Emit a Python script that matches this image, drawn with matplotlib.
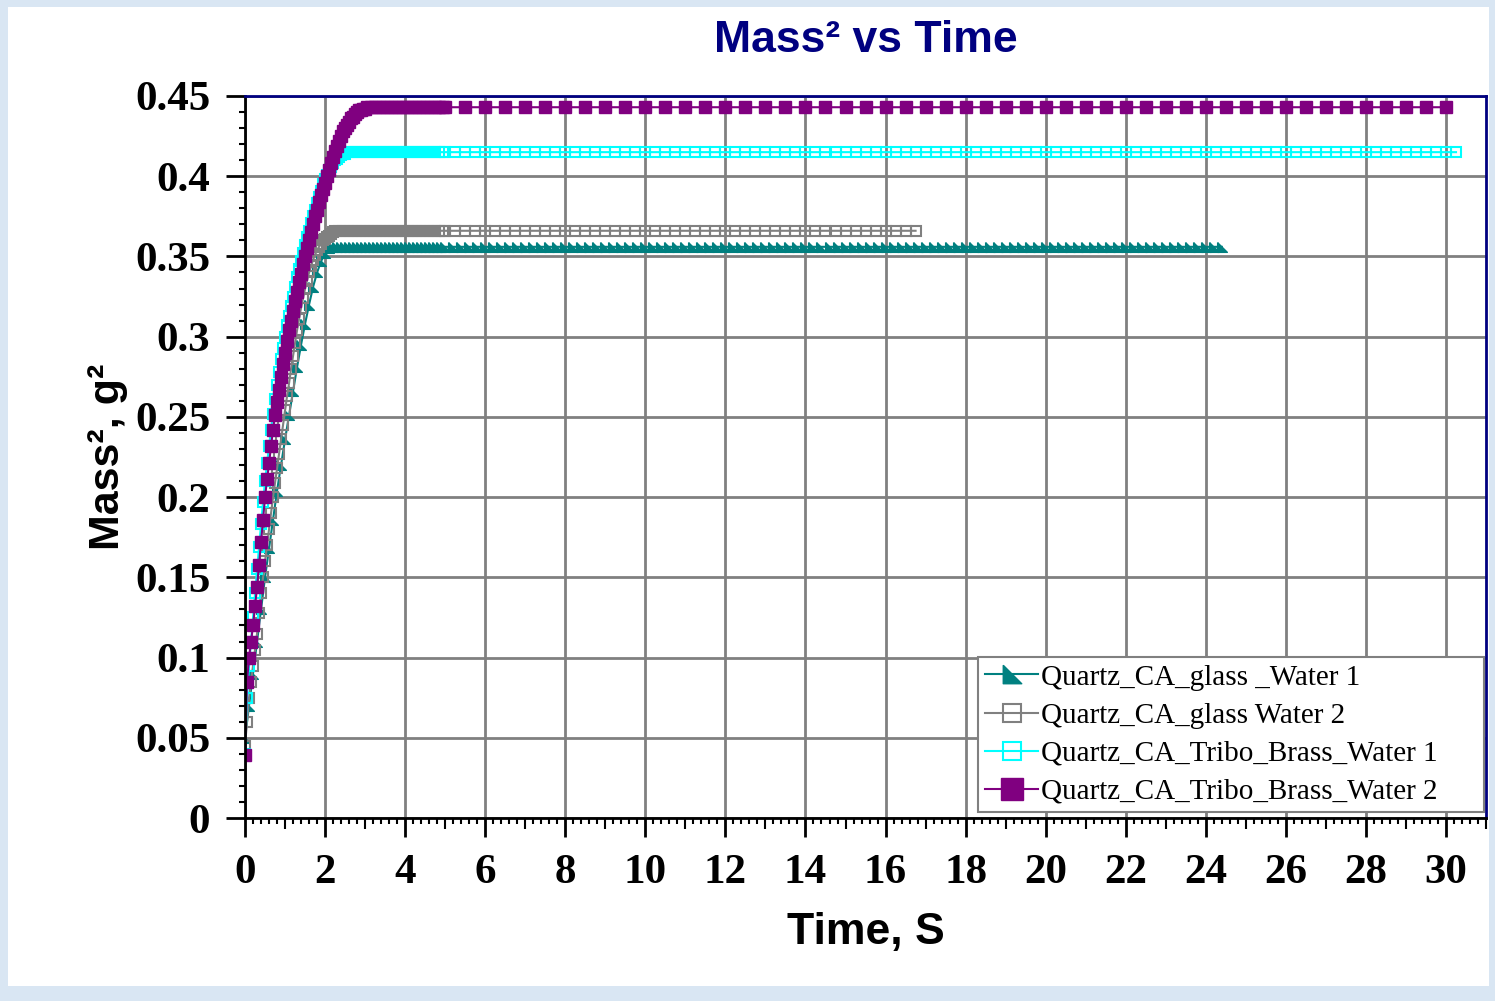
import numpy as np
import matplotlib.pyplot as plt
from matplotlib.ticker import MultipleLocator, FuncFormatter
from matplotlib.patches import Rectangle

# Mass^2 (g^2) read off the chart during the rise
# teal sampled every 0.1 s, the others every 0.05 s
teal_rise = [0.050, 0.070, 0.090, 0.110, 0.130, 0.150, 0.168, 0.186, 0.204, 0.220,
             0.236, 0.251, 0.266, 0.281, 0.295, 0.308, 0.320, 0.331, 0.340, 0.347,
             0.352, 0.355, 0.356]
gray_rise = [0.045, 0.060, 0.075, 0.085, 0.095, 0.105, 0.115, 0.128, 0.140, 0.150,
             0.160, 0.170, 0.180, 0.190, 0.200, 0.209, 0.218, 0.227, 0.236, 0.245,
             0.254, 0.263, 0.271, 0.280, 0.288, 0.296, 0.304, 0.311, 0.318, 0.324,
             0.330, 0.335, 0.340, 0.344, 0.348, 0.351, 0.354, 0.356, 0.358, 0.360,
             0.361, 0.362, 0.363, 0.364, 0.365, 0.366]
cyan_rise = [0.040, 0.075, 0.095, 0.110, 0.125, 0.140, 0.155, 0.169, 0.183, 0.197,
             0.210, 0.221, 0.232, 0.242, 0.252, 0.261, 0.270, 0.278, 0.286, 0.293,
             0.300, 0.307, 0.313, 0.319, 0.325, 0.331, 0.337, 0.342, 0.347, 0.352,
             0.357, 0.362, 0.366, 0.371, 0.375, 0.379, 0.383, 0.387, 0.391, 0.395,
             0.398, 0.401, 0.404, 0.406, 0.408, 0.410, 0.411, 0.412, 0.413, 0.414,
             0.414, 0.415]
purple_rise = [0.039, 0.085, 0.100, 0.110, 0.120, 0.132, 0.144, 0.158, 0.172, 0.186,
               0.200, 0.211, 0.221, 0.232, 0.242, 0.251, 0.259, 0.267, 0.275, 0.283,
               0.290, 0.297, 0.304, 0.310, 0.316, 0.322, 0.328, 0.334, 0.339, 0.345,
               0.350, 0.355, 0.360, 0.365, 0.370, 0.375, 0.379, 0.384, 0.388, 0.392,
               0.396, 0.400, 0.404, 0.408, 0.412, 0.416, 0.419, 0.422, 0.425, 0.428,
               0.430, 0.432, 0.434, 0.436, 0.437, 0.439, 0.440, 0.441, 0.441, 0.442,
               0.442, 0.443]

# plateau level and last time of each run
teal_level, teal_end = 0.356, 24.4
gray_level, gray_end = 0.366, 16.9
cyan_level, cyan_end = 0.415, 30.25
purple_level, purple_end = 0.443, 30.0

labels = ['Quartz_CA_glass _Water 1', 'Quartz_CA_glass Water 2',
          'Quartz_CA_Tribo_Brass_Water 1', 'Quartz_CA_Tribo_Brass_Water 2']


def build(rise, rise_dt, level, t_end, step):
    # logger: fine samples up to 5 s, coarser afterwards
    t_rise = np.arange(len(rise)) * rise_dt
    t_dense = np.arange(t_rise[-1] + 0.1, 5.0, 0.1)
    t_sparse = np.arange(5.0, t_end + 1e-6, step)
    t = np.concatenate([t_rise, t_dense, t_sparse])
    y = np.concatenate([rise, np.full(len(t_dense) + len(t_sparse), level)])
    return t, y


plt.rcParams['font.family'] = ['Liberation Sans', 'DejaVu Sans']

fig = plt.figure(figsize=(14.95, 10.01), dpi=100, facecolor='#d9e6f3')
fig.patches.append(Rectangle((8 / 1495, 15 / 1001), 1481 / 1495, 979 / 1001,
                             transform=fig.transFigure, facecolor='white',
                             edgecolor='none', zorder=-1))
ax = fig.add_axes([0.1639, 0.1828, 0.8301, 0.7213])

tri = [(-1, 1), (-1, -1), (1, -1), (-1, 1)]

t, y = build(teal_rise, 0.1, teal_level, teal_end, 0.2)
ax.plot(t, y, color='#008080', lw=1.5, marker=tri, ms=7, mfc='#008080',
        mec='#008080', label=labels[0])
t, y = build(gray_rise, 0.05, gray_level, gray_end, 0.25)
ax.plot(t, y, color='#808080', lw=1.5, marker='s', ms=7, mfc='none',
        mec='#808080', mew=1.5, label=labels[1])
t, y = build(cyan_rise, 0.05, cyan_level, cyan_end, 0.25)
ax.plot(t, y, color='#00ffff', lw=1.5, marker='s', ms=7, mfc='none',
        mec='#00ffff', mew=1.5, label=labels[2])
t, y = build(purple_rise, 0.05, purple_level, purple_end, 0.5)
ax.plot(t, y, color='#800080', lw=1.5, marker='s', ms=8.5, mfc='#800080',
        mec='#800080', label=labels[3])

ax.set_xlim(0, 31)
ax.set_ylim(0, 0.45)
ax.xaxis.set_major_locator(MultipleLocator(2))
ax.xaxis.set_minor_locator(MultipleLocator(0.2))
ax.yaxis.set_major_locator(MultipleLocator(0.05))
ax.yaxis.set_minor_locator(MultipleLocator(0.01))
ax.yaxis.set_major_formatter(FuncFormatter(lambda v, p: '%g' % round(v, 2)))

ax.grid(True, which='major', color='#808080', lw=2)
ax.set_axisbelow(True)

ax.tick_params(which='major', direction='out', length=14, width=2, color='black')
ax.tick_params(axis='y', which='major', pad=11)
ax.tick_params(axis='x', which='major', pad=12)
ax.tick_params(which='minor', direction='out', length=4, width=1.5, color='black')
for lab in ax.get_xticklabels() + ax.get_yticklabels():
    lab.set_family('Liberation Serif')
    lab.set_fontweight('bold')
    lab.set_fontsize(31)

# odd seconds get a medium tick
for loc, tick in zip(ax.xaxis.get_minorticklocs(), ax.xaxis.get_minor_ticks()):
    if abs(loc - round(loc)) < 1e-6 and int(round(loc)) % 2 == 1:
        tick.tick1line.set_markersize(8)

for side in ['left', 'bottom']:
    ax.spines[side].set_color('black')
    ax.spines[side].set_linewidth(2)
for side in ['top', 'right']:
    ax.spines[side].set_color('#000080')
    ax.spines[side].set_linewidth(2)

ax.set_title('Mass\u00b2 vs Time', fontsize=32, fontweight='bold',
             color='#000080', pad=32)
ax.set_xlabel('Time, S', fontsize=32, fontweight='bold', labelpad=14)
ax.set_ylabel('Mass\u00b2, g\u00b2', fontsize=31, fontweight='bold', labelpad=5)

leg = ax.legend(loc='lower left', bbox_to_anchor=(0.5907, 0.008, 0.4077, 0.3),
                mode='expand', borderaxespad=0,
                prop={'family': 'Liberation Serif', 'size': 21}, markerscale=1.9,
                handlelength=1.8, handletextpad=0.1, labelspacing=0.4,
                borderpad=0.25, fancybox=False, framealpha=1)
leg.get_frame().set_edgecolor('#808080')
leg.get_frame().set_linewidth(1.5)

plt.savefig('out.png', dpi=100, facecolor=fig.get_facecolor())
